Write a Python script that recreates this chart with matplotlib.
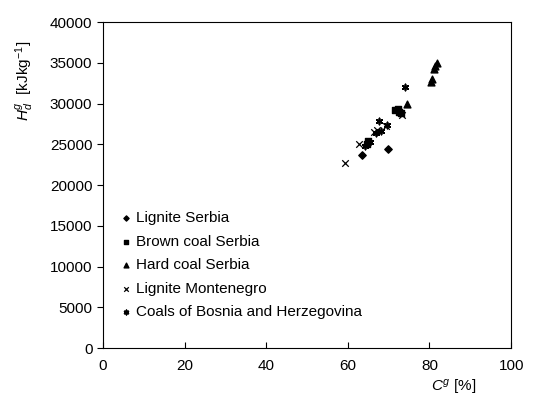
import matplotlib
matplotlib.use('Agg')
import matplotlib.pyplot as plt

plt.rcParams['font.family'] = ['Liberation Sans', 'DejaVu Sans']
plt.rcParams['mathtext.fontset'] = 'custom'
plt.rcParams['mathtext.rm'] = 'Liberation Sans'
plt.rcParams['mathtext.it'] = 'Liberation Sans:italic'

# --- data --- #
lig_serbia_c = [63.5, 69.9]
lig_serbia_h = [23700, 24500]

brown_serbia_c = [64.6, 65.0, 71.6, 72.2, 72.6, 72.9]
brown_serbia_h = [25100, 25400, 29200, 29400, 29000, 28900]

hard_serbia_c = [74.5, 80.3, 80.6, 81.0, 81.4, 81.9]
hard_serbia_h = [30000, 32700, 33000, 34200, 34600, 35000]

lig_mont_c = [59.3, 62.8, 66.5, 67.2, 69.3, 73.3]
lig_mont_h = [22700, 25000, 26500, 26800, 27200, 28600]

bosnia_c = [64.3, 65.4, 66.9, 67.6, 68.1, 69.7, 74.0, 73.0]
bosnia_h = [24800, 25300, 26400, 27900, 26700, 27400, 32000, 29000]

fig = plt.figure(figsize=(5.33, 4.03), dpi=100)
ax = fig.add_axes([0.193, 0.136, 0.766, 0.809])

ax.scatter(lig_serbia_c, lig_serbia_h, marker='D', s=14, color='black', label='Lignite Serbia')
ax.scatter(brown_serbia_c, brown_serbia_h, marker='s', s=18, color='black', label='Brown coal Serbia')
ax.scatter(hard_serbia_c, hard_serbia_h, marker='^', s=24, color='black', label='Hard coal Serbia')
ax.scatter(lig_mont_c, lig_mont_h, marker='x', s=22, color='black', linewidths=0.9, label='Lignite Montenegro')
ax.scatter(bosnia_c, bosnia_h, marker=(6, 2, 0), s=20, color='black', linewidths=1.2,
           label='Coals of Bosnia and Herzegovina')

ax.set_xlim(0, 100)
ax.set_ylim(0, 40000)
ax.set_xticks(range(0, 101, 20))
ax.set_yticks(range(0, 40001, 5000))
ax.tick_params(axis='x', direction='in', length=4, labelsize=11, pad=8)
ax.tick_params(axis='y', direction='out', length=4, labelsize=11)

ax.set_xlabel('$C^g$ [%]', fontsize=11, labelpad=1)
ax.xaxis.set_label_coords(0.86, -0.09)
ax.set_ylabel('$H_d^g$  [kJkg$^{-1}$]', fontsize=11)
ax.yaxis.set_label_coords(-0.165, 0.82)

ax.legend(loc='center left', bbox_to_anchor=(0.0, 0.255), frameon=False, fontsize=11,
          handletextpad=0.1, markerscale=0.7, labelspacing=0.62, handlelength=1.2)

plt.savefig('out.png', dpi=100)
